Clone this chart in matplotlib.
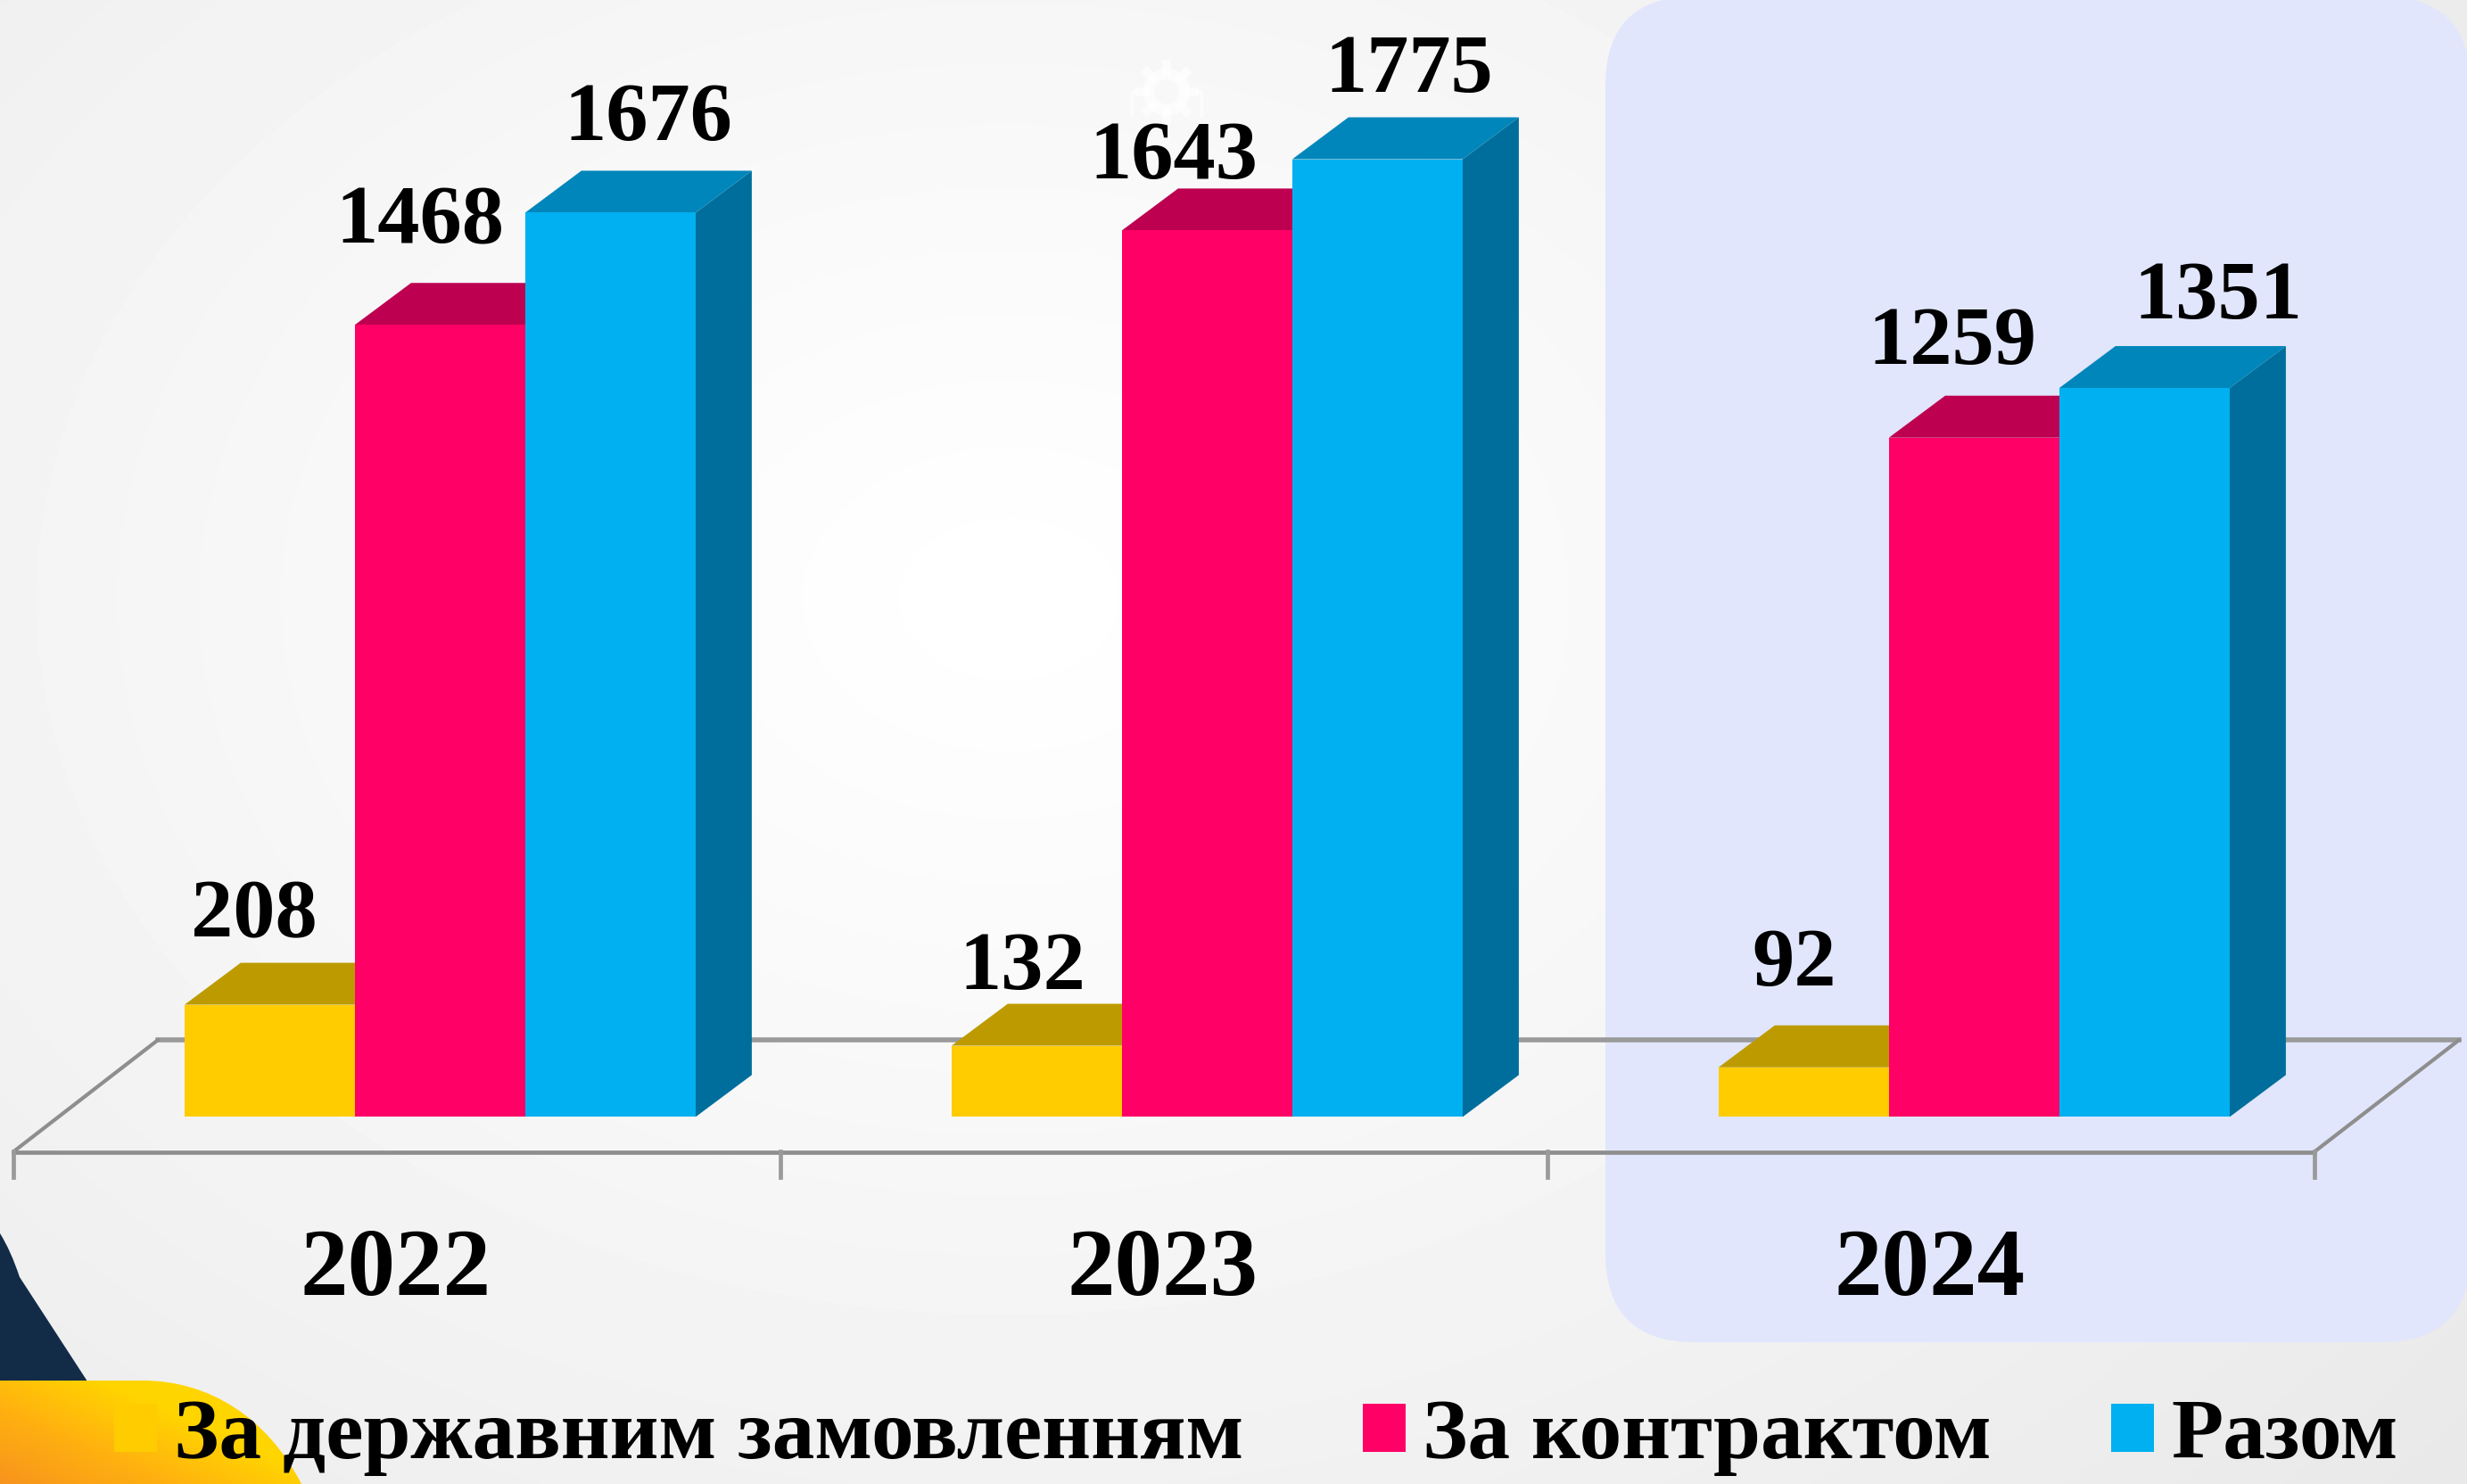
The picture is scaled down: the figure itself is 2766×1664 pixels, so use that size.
import numpy as np
import matplotlib
matplotlib.use("Agg")
import matplotlib.pyplot as plt
from matplotlib.patches import Polygon, FancyBboxPatch, PathPatch, Patch, Circle
from matplotlib.path import Path

years = ["2022", "2023", "2024"]
state_order = [208, 132, 92]
contract = [1468, 1643, 1259]
total = [1676, 1775, 1351]
series_names = ["За державним замовленням", "За контрактом", "Разом"]

W, H = 2766, 1664
plt.rcParams["font.family"] = ["Liberation Serif", "DejaVu Serif"]
fig = plt.figure(figsize=(W / 100, H / 100), dpi=100)

# ---------- decorative slide background, in pixel coordinates ----------
bg = fig.add_axes([0, 0, 1, 1], zorder=0)
bg.set_xlim(0, W)
bg.set_ylim(H, 0)
bg.axis("off")
yy, xx = np.mgrid[0:H:4, 0:W:4]
r = np.hypot((xx - 1130) / 1700, (yy - 670) / 1250)
g = np.clip(1 - 0.07 * r ** 1.1, 0, 1)
bg.imshow(g, extent=(0, W, H, 0), cmap="gray", vmin=0, vmax=1, aspect="auto", zorder=0,
          interpolation="bilinear")

RAD = 100
bg.add_patch(FancyBboxPatch((1800 + RAD, RAD - 4), W + 4 - 1800 - 2 * RAD, 1505 + 4 - 2 * RAD,
                            boxstyle=f"round,pad={RAD},rounding_size={RAD}",
                            fc="#E1E6FC", ec="none", zorder=1))
# navy wedge
nav = Path([(0, 1383), (12, 1402), (22, 1432), (100, 1552), (0, 1552), (0, 1383)],
           [Path.MOVETO, Path.CURVE3, Path.CURVE3, Path.LINETO, Path.LINETO, Path.CLOSEPOLY])
bg.add_patch(PathPatch(nav, fc="#122B47", ec="none", zorder=2))
# yellow corner with gradient
ycorner = Path([(0, 1548), (160, 1548), (235, 1548), (300, 1590), (338, 1664), (0, 1664), (0, 1548)],
               [Path.MOVETO, Path.LINETO, Path.CURVE4, Path.CURVE4, Path.CURVE4, Path.LINETO, Path.CLOSEPOLY])
ypatch = PathPatch(ycorner, fc="none", ec="none", zorder=3)
bg.add_patch(ypatch)
gy, gx = np.mgrid[1548:1664:2, 0:340:2]
grad = np.clip((gx / 340 + (1664 - gy) / 116 * 0.75) / 1.1, 0, 1)
cm = matplotlib.colors.LinearSegmentedColormap.from_list("y", ["#F7941D", "#FFB010", "#FFD500"])
im = bg.imshow(grad, extent=(0, 340, 1664, 1548), cmap=cm, vmin=0, vmax=1, aspect="auto", zorder=3)
im.set_clip_path(ypatch)
# faint gear watermark
wm = dict(color="white", alpha=0.7, zorder=2)
bg.add_patch(Circle((1308, 103), 20, fc="none", ec="white", lw=9, alpha=0.7, zorder=2))
for a in np.arange(0, 360, 45):
    ca, sa = np.cos(np.radians(a)), np.sin(np.radians(a))
    bg.plot([1308 + 22 * ca, 1308 + 31 * ca], [103 + 22 * sa, 103 + 31 * sa], lw=7, **wm)
bg.plot([1275, 1269, 1269], [103, 103, 130], lw=2.5, **wm)
bg.plot([1341, 1347, 1347], [103, 103, 130], lw=2.5, **wm)
bg.set_xlim(0, W)
bg.set_ylim(H, 0)

# ---------- chart axes: x in category units, y in chart values ----------
PX_PER_CAT = 860.0
PX_PER_VAL = 0.605
X0_PX, Y0_PX = 445.4, 1252.4
ax = fig.add_axes([0, 0, 1, 1], zorder=1)
ax.patch.set_alpha(0)
ax.set_xlim(-X0_PX / PX_PER_CAT, (W - X0_PX) / PX_PER_CAT)
ax.set_ylim(-(H - Y0_PX) / PX_PER_VAL, Y0_PX / PX_PER_VAL)
ax.axis("off")

DX = 63 / PX_PER_CAT      # 3-D depth of a bar, category units
DY = 47 / PX_PER_VAL      # 3-D depth of a bar, value units
BW = 191 / PX_PER_CAT     # bar width
SHIFT = 48 / PX_PER_CAT   # bars sit right of the category centre

# floor of the 3-D plot
FRONT, BACK, FDX = -64, 143, 162 / PX_PER_CAT
line = dict(color="#8E8E8E", lw=3, solid_capstyle="round", zorder=1)
n = len(years)
ax.plot([-0.5, n - 0.5], [FRONT - 2, FRONT - 2], color="#8E8E8E", lw=3.4, zorder=1)
ax.plot([-0.5 + FDX, n - 0.5 + FDX], [BACK, BACK], color="#9A9A9A", lw=4, zorder=1)
ax.plot([-0.5, -0.5 + FDX], [FRONT, BACK], **line)
ax.plot([n - 0.5, n - 0.5 + FDX], [FRONT, BACK], **line)
for t in np.arange(n + 1) - 0.5:
    ax.plot([t, t], [FRONT, FRONT - 47], color="#9A9A9A", lw=3.4, zorder=1)

front_cols = ["#FFCC00", "#FF0066", "#00B0F0"]
top_cols = ["#BD9B00", "#BD0050", "#0086BA"]
side_cols = ["#BD9B00", "#BD0050", "#006E9C"]

series = [state_order, contract, total]
label_dx = [[-10, -9, -6], [-13, -21, -14], [24, 20, 47]]
label_dy = [[43, 36, 52], [52, 33, 47], [46, 43, 44]]

z = 2
for s, vals in enumerate(series):
    for c, v in enumerate(vals):
        x0 = c + SHIFT + (s - 1.5) * BW
        x1 = x0 + BW
        ax.add_patch(Polygon([(x1, 0), (x1 + DX, DY), (x1 + DX, v + DY), (x1, v)],
                             fc=side_cols[s], ec="none", zorder=z))
        ax.add_patch(Polygon([(x0, v), (x1, v), (x1 + DX, v + DY), (x0 + DX, v + DY)],
                             fc=top_cols[s], ec="none", zorder=z))
        ax.bar(x0, v, width=BW, align="edge", color=front_cols[s], zorder=z + 0.5)
        ax.annotate(str(v), (x0 + BW / 2, v),
                    xytext=(label_dx[s][c] * 1.764, label_dy[s][c] * 1.764),
                    textcoords="offset pixels", ha="center", va="baseline",
                    fontsize=68, fontweight="bold", color="black", zorder=10)
    z += 1

for c, yr in enumerate(years):
    ax.text(c - 0.002, -330, yr, ha="center", va="baseline",
            fontsize=77, fontweight="bold", color="black", zorder=10)

handles = [Patch(fc=col, ec="none", label=name) for col, name in zip(front_cols, series_names)]
leg = ax.legend(handles=handles, ncol=3, frameon=False, loc="lower left",
                bbox_to_anchor=(128 / W, (H - 1655) / H), borderpad=0, borderaxespad=0,
                prop=dict(family="Liberation Serif", weight="bold", size=68.6),
                handlelength=0.5, handleheight=0.5, handletextpad=0.2, columnspacing=1.41)
leg.set_zorder(10)

fig.savefig("out.png", dpi=100)
